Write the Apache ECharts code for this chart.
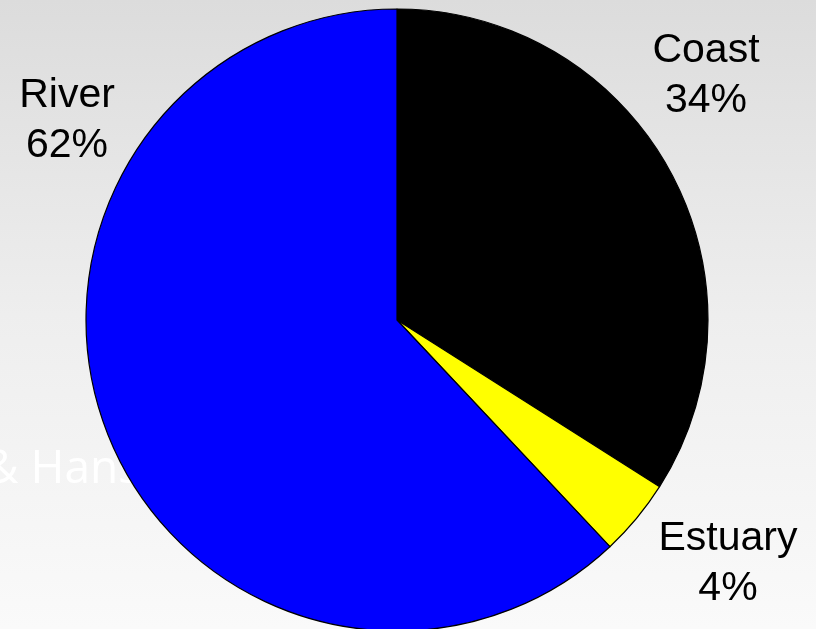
<!DOCTYPE html>
<html>
<head>
<meta charset="utf-8">
<script src="https://cdn.jsdelivr.net/npm/echarts@6/dist/echarts.min.js"></script>
<style>
  html, body { margin: 0; padding: 0; }
  #chart { width: 816px; height: 629px; }
</style>
</head>
<body>
<div id="chart"></div>
<script>
// slice names, shares (%) and fill colours
const habitats = ['Coast', 'Estuary', 'River'];
const shares = [34, 4, 62];
const colors = ['#000000', '#ffff00', '#0000ff'];

// where each label block sits (centre of the two lines)
const labelSpots = [[706, 76], [728, 564], [67, 121]];

const chart = echarts.init(document.getElementById('chart'));

const options = {
  backgroundColor: {
    type: 'linear', x: 0, y: 0, x2: 0, y2: 1,
    colorStops: [
      { offset: 0, color: '#dcdcdc' },
      { offset: 0.5, color: '#eeeeee' },
      { offset: 1, color: '#fafafa' }
    ]
  },
  animation: false,
  graphic: [
    {
      type: 'text',
      left: -15,
      top: 447,
      z: 0,
      style: {
        text: '& Hansen',
        fill: '#ffffff',
        font: '46px "Open Sans", "Noto Sans", sans-serif'
      }
    }
  ],
  series: [
    {
      type: 'pie',
      center: [397, 320],
      radius: 311,
      startAngle: 90,
      clockwise: true,
      z: 5,
      data: habitats.map((name, i) => ({
        name: name,
        value: shares[i],
        itemStyle: { color: colors[i] }
      })),
      itemStyle: { borderColor: '#000000', borderWidth: 1.2 },
      label: {
        show: true,
        position: 'outside',
        alignTo: 'none',
        overflow: 'none',
        formatter: '{b}\n{d}%',
        color: '#000000',
        fontFamily: 'Liberation Sans, Arial, sans-serif',
        fontSize: 41,
        lineHeight: 50,
        align: 'center'
      },
      labelLine: { show: false },
      labelLayout: params => ({
        x: labelSpots[params.dataIndex][0],
        y: labelSpots[params.dataIndex][1],
        align: 'center',
        verticalAlign: 'middle',
        width: 200
      }),
      emphasis: { disabled: true }
    }
  ]
};

chart.setOption(options);
</script>
</body>
</html>
